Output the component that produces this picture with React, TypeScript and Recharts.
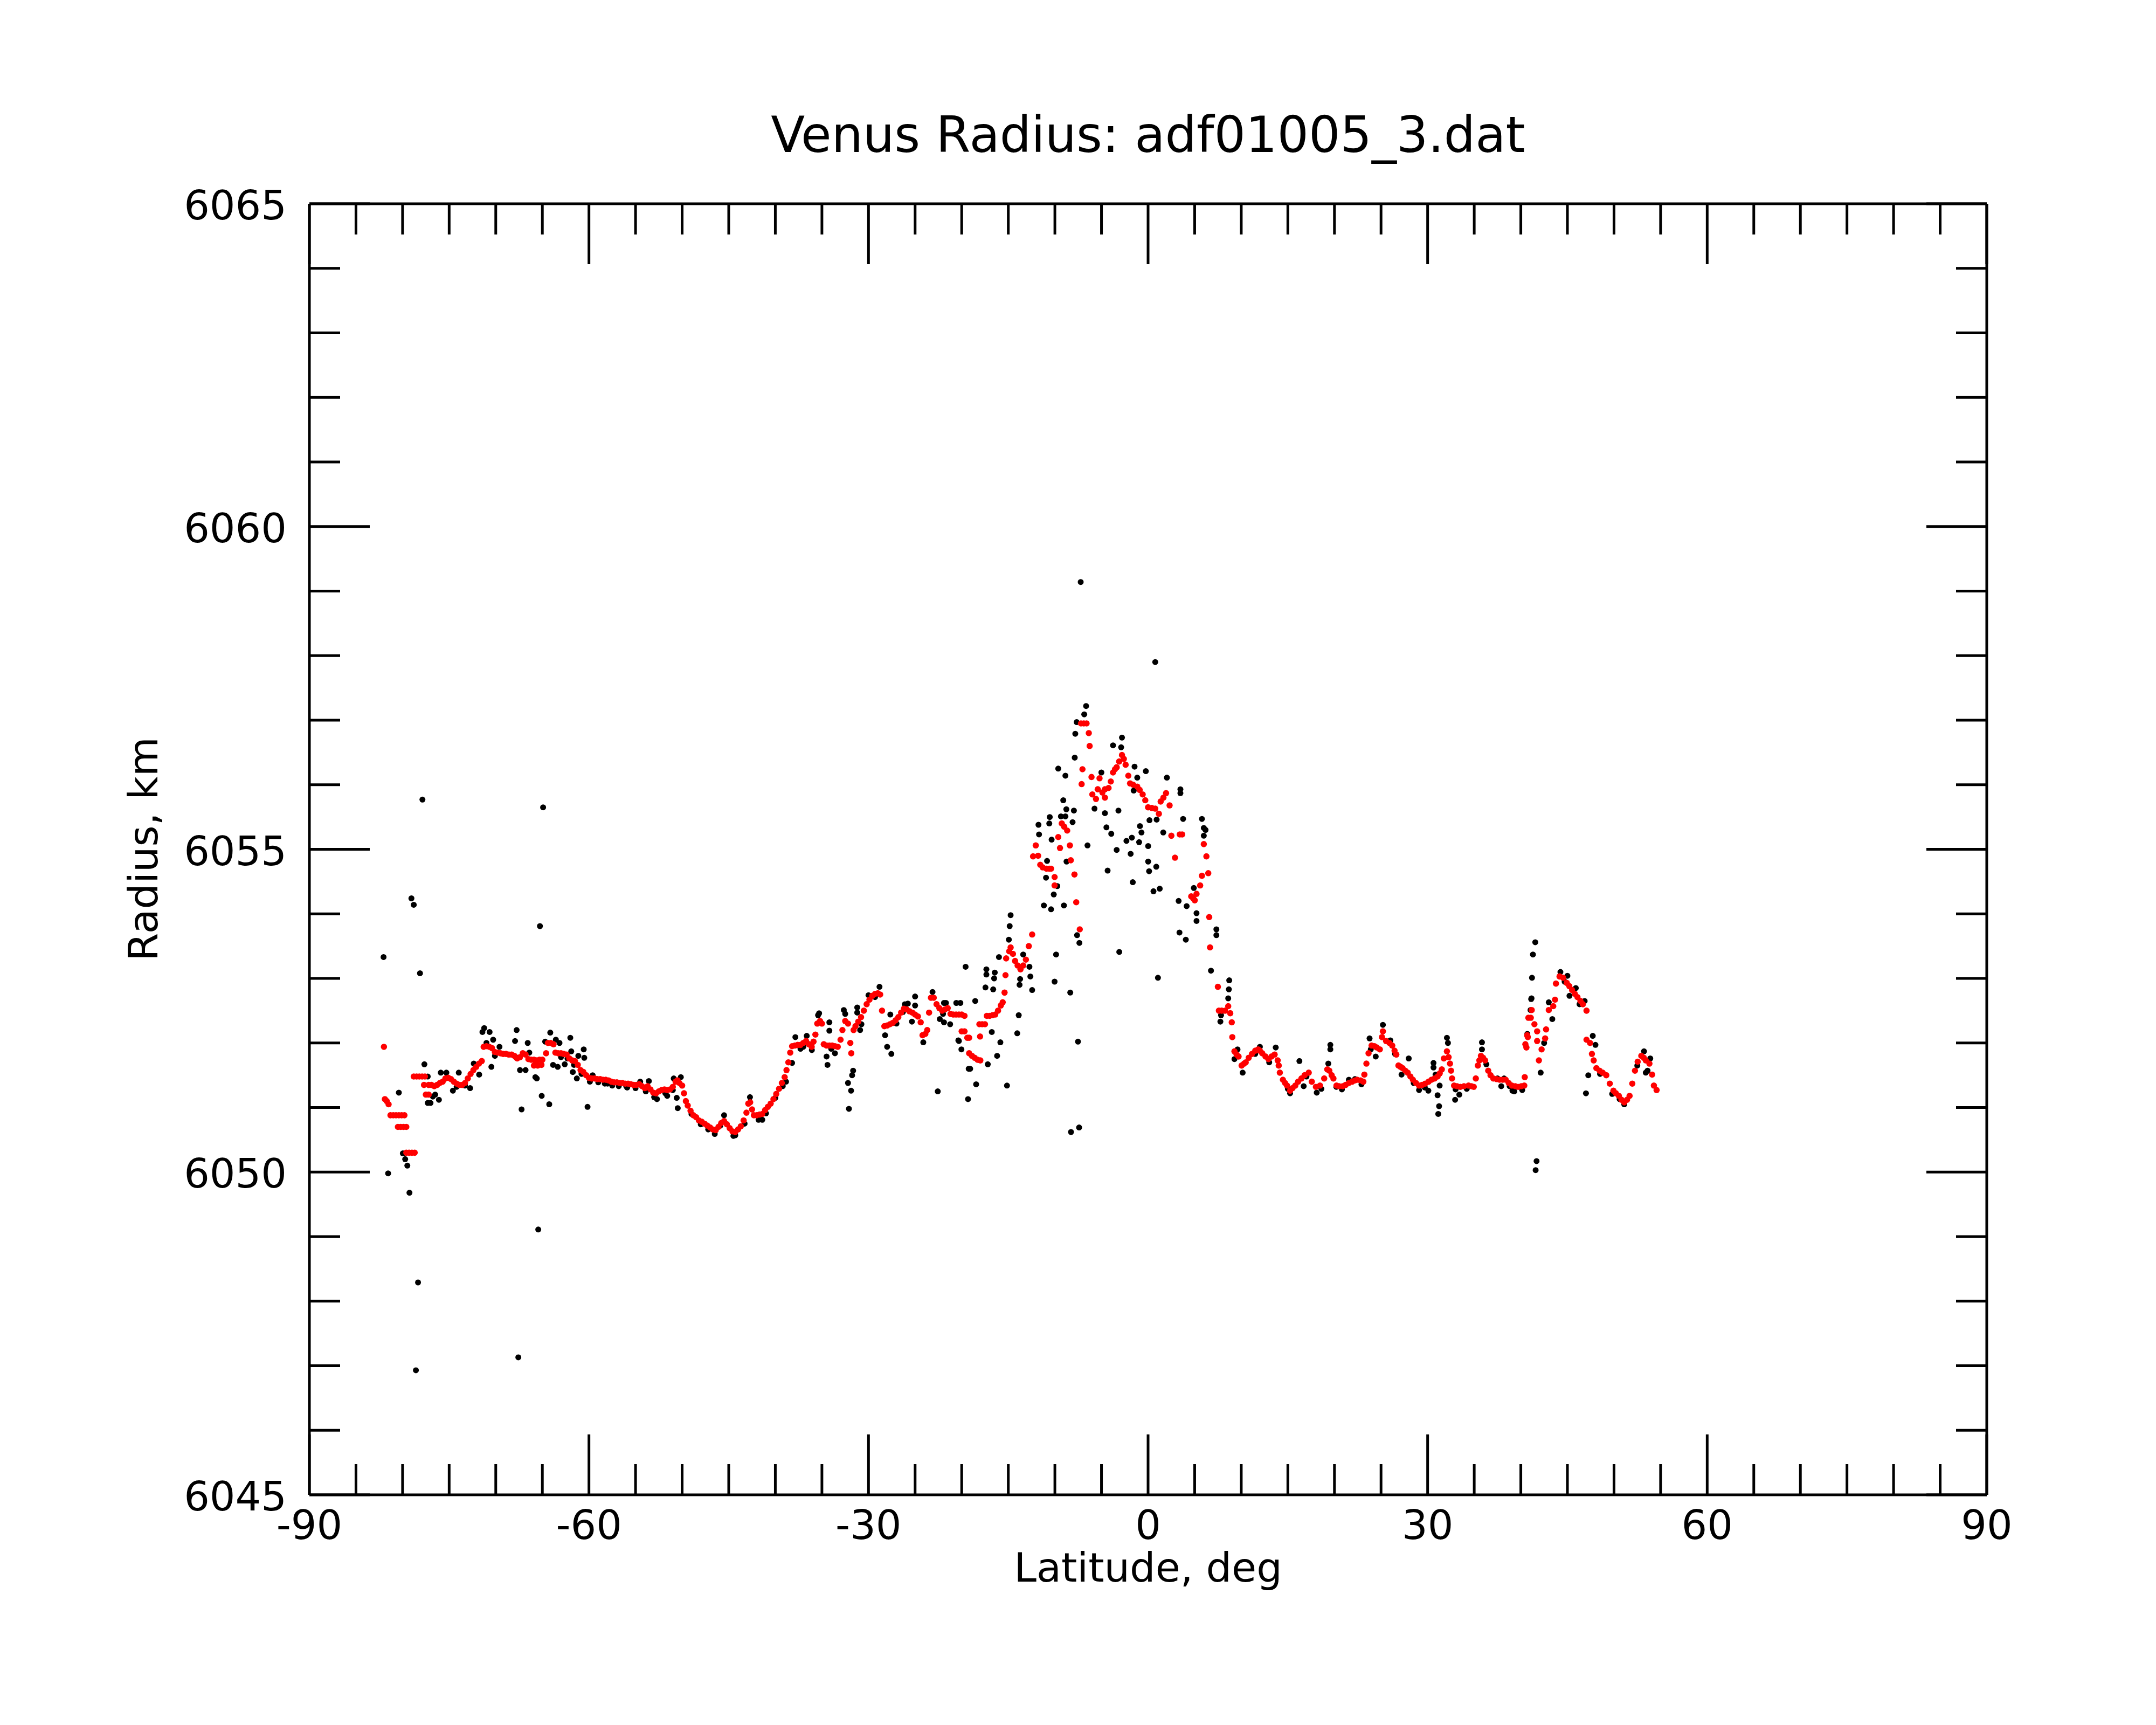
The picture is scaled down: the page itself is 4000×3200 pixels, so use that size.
import React from 'react';
import { ScatterChart, Scatter, XAxis, YAxis } from 'recharts';

// raw radius samples (lat deg, radius km)
const rawPoints: [number, number][] = [
  [-82.04, 6053.33], [-81.55, 6049.98], [-80.4, 6051.23], [-79.97, 6050.29], [-79.72, 6050.2], [-79.49, 6050.1],
  [-79.26, 6049.68], [-79.05, 6054.24], [-78.8, 6054.14], [-78.57, 6046.93], [-78.34, 6048.29], [-78.13, 6053.08],
  [-77.87, 6055.77], [-77.66, 6051.67], [-77.3, 6051.48], [-77.3, 6051.07], [-77.0, 6051.07], [-76.75, 6051.17],
  [-76.5, 6051.2], [-76.1, 6051.12], [-75.9, 6051.54], [-75.3, 6051.54], [-74.6, 6051.26], [-74.2, 6051.32],
  [-73.97, 6051.54], [-73.3, 6051.34], [-72.75, 6051.3], [-72.36, 6051.68], [-71.78, 6051.51], [-71.43, 6052.17],
  [-71.24, 6052.23], [-71.0, 6052.0], [-70.66, 6052.17], [-70.47, 6051.63], [-70.28, 6052.05], [-70.09, 6051.8],
  [-69.6, 6051.94], [-67.93, 6052.03], [-67.85, 6051.78], [-67.76, 6052.2], [-67.58, 6047.13], [-67.4, 6051.58],
  [-67.23, 6050.97], [-66.8, 6051.58], [-66.57, 6052.0], [-66.4, 6051.85], [-65.75, 6051.47], [-65.6, 6051.45],
  [-65.44, 6049.11], [-65.26, 6053.81], [-65.07, 6051.18], [-64.92, 6055.65], [-64.7, 6052.02], [-64.26, 6051.05],
  [-64.15, 6052.16], [-63.85, 6051.66], [-63.55, 6052.05], [-63.35, 6051.63], [-63.16, 6052.0], [-63.0, 6051.78],
  [-62.6, 6051.67], [-62.3, 6051.76], [-62.0, 6052.08], [-61.9, 6051.87], [-61.73, 6051.55], [-61.6, 6051.66],
  [-61.3, 6051.45], [-61.14, 6051.8], [-60.8, 6051.52], [-60.56, 6051.9], [-60.5, 6051.77], [-60.15, 6051.01],
  [-59.9, 6051.4], [-59.6, 6051.5], [-59.0, 6051.39], [-58.3, 6051.37], [-58.0, 6051.37], [-57.5, 6051.34],
  [-56.8, 6051.33], [-56.0, 6051.33], [-55.9, 6051.31], [-55.0, 6051.3], [-54.5, 6051.4], [-53.9, 6051.25],
  [-53.57, 6051.41], [-53.0, 6051.16], [-52.7, 6051.13], [-51.8, 6051.22], [-51.6, 6051.18], [-51.0, 6051.27],
  [-50.9, 6051.45], [-50.58, 6051.15], [-50.47, 6050.99], [-50.14, 6051.47], [-49.0, 6050.9], [-48.0, 6050.74],
  [-47.2, 6050.66], [-46.5, 6050.59], [-45.9, 6050.72], [-45.5, 6050.88], [-44.5, 6050.56], [-44.3, 6050.57],
  [-43.3, 6050.75], [-42.72, 6051.16], [-41.8, 6050.81], [-41.4, 6050.81], [-41.0, 6050.91], [-40.0, 6051.15],
  [-39.2, 6051.33], [-38.85, 6051.4], [-38.2, 6051.69], [-37.85, 6052.09], [-37.3, 6051.91], [-37.0, 6051.94],
  [-36.63, 6052.11], [-36.08, 6051.89], [-35.41, 6052.43], [-35.3, 6052.46], [-34.5, 6051.79], [-34.4, 6051.66],
  [-34.2, 6052.32], [-34.2, 6052.19], [-34.0, 6051.91], [-33.6, 6051.84], [-32.65, 6052.51], [-32.5, 6052.45],
  [-32.2, 6051.38], [-32.1, 6050.98], [-31.87, 6051.26], [-31.76, 6051.5], [-31.65, 6051.57], [-31.21, 6052.55],
  [-31.21, 6052.47], [-30.9, 6052.2], [-30.76, 6052.29], [-30.0, 6052.74], [-29.3, 6052.71], [-28.82, 6052.87],
  [-28.22, 6052.12], [-28.0, 6051.94], [-27.66, 6052.44], [-27.55, 6051.83], [-27.0, 6052.3], [-26.3, 6052.48],
  [-26.1, 6052.6], [-25.78, 6052.61], [-25.34, 6052.33], [-25.0, 6052.72], [-25.0, 6052.58], [-24.12, 6052.01],
  [-23.13, 6052.79], [-22.57, 6051.25], [-22.35, 6052.37], [-22.0, 6052.45], [-21.9, 6052.32], [-21.9, 6052.62],
  [-21.69, 6052.62], [-21.24, 6052.29], [-20.58, 6052.62], [-20.36, 6052.04], [-20.3, 6052.03], [-20.14, 6052.62],
  [-20.03, 6051.9], [-19.58, 6053.18], [-19.32, 6051.13], [-19.25, 6051.6], [-19.09, 6051.6], [-18.55, 6052.65],
  [-18.45, 6051.36], [-17.45, 6052.86], [-17.35, 6053.14], [-17.35, 6053.06], [-17.2, 6051.67], [-16.77, 6052.17],
  [-16.62, 6052.83], [-16.52, 6053.0], [-16.45, 6053.09], [-16.2, 6051.8], [-16.0, 6053.33], [-15.85, 6052.01],
  [-15.14, 6051.34], [-14.94, 6053.6], [-14.85, 6053.81], [-14.75, 6053.98], [-14.04, 6052.15], [-13.88, 6052.43],
  [-13.79, 6052.9], [-13.73, 6052.99], [-13.4, 6053.37], [-12.73, 6053.18], [-12.63, 6053.03], [-12.44, 6052.82],
  [-11.76, 6055.38], [-11.7, 6055.23], [-11.18, 6054.13], [-10.95, 6054.56], [-10.84, 6054.82], [-10.6, 6055.4],
  [-10.55, 6055.5], [-10.41, 6054.07], [-10.35, 6055.15], [-10.12, 6054.3], [-10.03, 6052.95], [-9.87, 6053.37],
  [-9.74, 6054.43], [-9.64, 6056.25], [-9.35, 6055.51], [-9.1, 6055.76], [-9.03, 6054.13], [-8.87, 6055.51],
  [-8.87, 6056.14], [-8.77, 6055.62], [-8.75, 6054.81], [-8.35, 6052.78], [-8.27, 6050.62], [-8.1, 6055.42],
  [-7.96, 6055.6], [-7.87, 6056.42], [-7.81, 6056.79], [-7.66, 6056.97], [-7.62, 6053.67], [-7.52, 6052.02],
  [-7.4, 6050.69], [-7.37, 6053.55], [-7.23, 6059.14], [-6.85, 6057.09], [-6.65, 6057.22], [-6.5, 6055.06],
  [-5.75, 6055.63], [-5.01, 6056.19], [-4.63, 6055.56], [-4.47, 6055.34], [-4.34, 6054.67], [-3.95, 6055.24],
  [-3.76, 6056.61], [-3.37, 6054.99], [-3.18, 6055.6], [-3.09, 6053.41], [-2.89, 6056.58], [-2.8, 6056.73],
  [-2.32, 6055.13], [-1.87, 6054.93], [-1.74, 6055.18], [-1.64, 6054.49], [-1.54, 6055.91], [-1.45, 6056.28],
  [-1.16, 6056.11], [-0.96, 6055.11], [-0.87, 6055.36], [-0.71, 6055.26], [-0.24, 6056.21], [0.01, 6055.05],
  [0.01, 6054.81], [0.11, 6054.66], [0.15, 6055.45], [0.58, 6054.35], [0.77, 6057.9], [0.88, 6054.73],
  [0.92, 6055.46], [1.06, 6053.01], [1.25, 6054.39], [1.63, 6055.26], [2.02, 6056.11], [3.28, 6054.2],
  [3.37, 6053.71], [3.47, 6055.93], [3.47, 6055.87], [3.76, 6055.47], [4.05, 6053.6], [4.14, 6054.12],
  [4.91, 6054.4], [5.2, 6054.01], [5.2, 6053.89], [5.78, 6055.47], [5.98, 6055.33], [5.98, 6055.21],
  [6.17, 6055.3], [6.75, 6053.12], [7.33, 6053.76], [7.33, 6053.67], [7.76, 6052.33], [7.83, 6052.43],
  [8.6, 6052.69], [8.67, 6052.83], [8.71, 6052.97], [9.27, 6051.75], [9.6, 6051.9], [10.15, 6051.54],
  [11.5, 6051.83], [12.0, 6051.94], [13.0, 6051.7], [13.7, 6051.93], [15.0, 6051.29], [15.24, 6051.22],
  [16.24, 6051.72], [16.7, 6051.33], [17.0, 6051.48], [18.1, 6051.23], [18.6, 6051.29], [19.34, 6051.68],
  [19.56, 6051.97], [19.56, 6051.9], [20.2, 6051.32], [20.8, 6051.28], [21.55, 6051.43], [22.2, 6051.44],
  [22.9, 6051.36], [23.77, 6052.07], [23.9, 6051.9], [24.43, 6051.79], [25.2, 6052.28], [26.0, 6052.04],
  [26.5, 6051.83], [27.2, 6051.51], [27.97, 6051.76], [28.5, 6051.38], [29.08, 6051.27], [29.7, 6051.31],
  [30.08, 6051.26], [30.63, 6051.69], [30.63, 6051.62], [30.85, 6051.51], [31.07, 6051.19], [31.14, 6050.9],
  [31.23, 6051.02], [31.29, 6051.34], [32.07, 6052.08], [32.18, 6052.0], [32.95, 6051.12], [33.0, 6051.28],
  [33.4, 6051.2], [34.2, 6051.29], [35.83, 6052.01], [35.83, 6051.9], [36.3, 6051.67], [37.5, 6051.45],
  [37.9, 6051.33], [38.2, 6051.45], [38.8, 6051.33], [39.1, 6051.26], [39.3, 6051.25], [40.15, 6051.27],
  [40.7, 6052.14], [41.04, 6052.51], [41.11, 6052.68], [41.15, 6052.69], [41.2, 6053.01], [41.3, 6053.37],
  [41.55, 6053.56], [41.59, 6050.03], [41.69, 6050.17], [42.13, 6051.54], [42.5, 6052.0], [43.0, 6052.63],
  [43.38, 6052.37], [44.25, 6053.1], [44.7, 6052.95], [45.0, 6053.04], [45.22, 6052.73], [45.9, 6052.85],
  [46.3, 6052.6], [46.85, 6052.65], [46.99, 6051.22], [47.24, 6051.5], [47.72, 6052.11], [48.01, 6051.97],
  [48.5, 6051.52], [49.8, 6051.21], [50.6, 6051.13], [51.1, 6051.05], [52.5, 6051.65], [53.22, 6051.87],
  [53.41, 6051.54], [53.6, 6051.57], [53.89, 6051.76],
];

// smoothed radius (lat deg, radius km)
const smoothPoints: [number, number][] = [
  [-82.0, 6051.94], [-81.9, 6051.13], [-81.7, 6051.1], [-81.5, 6051.05], [-81.3, 6050.88], [-81.0, 6050.88],
  [-80.7, 6050.88], [-80.4, 6050.88], [-80.1, 6050.88], [-79.8, 6050.88], [-80.5, 6050.7], [-80.2, 6050.7],
  [-79.9, 6050.7], [-79.6, 6050.7], [-79.6, 6050.3], [-79.3, 6050.3], [-79.0, 6050.3], [-78.7, 6050.3],
  [-78.8, 6051.48], [-78.5, 6051.48], [-78.2, 6051.48], [-77.9, 6051.48], [-77.6, 6051.48], [-77.7, 6051.35],
  [-77.5, 6051.2], [-77.2, 6051.2], [-77.2, 6051.35], [-76.9, 6051.35], [-76.6, 6051.33], [-76.3, 6051.35],
  [-76.0, 6051.38], [-75.7, 6051.4], [-75.4, 6051.45], [-75.1, 6051.46], [-74.8, 6051.44], [-74.5, 6051.4],
  [-74.2, 6051.37], [-73.9, 6051.35], [-73.6, 6051.35], [-73.3, 6051.38], [-73.0, 6051.45], [-72.7, 6051.52],
  [-72.4, 6051.58], [-72.1, 6051.63], [-71.8, 6051.68], [-71.5, 6051.72], [-71.3, 6051.94], [-71.0, 6051.95],
  [-70.7, 6051.94], [-70.4, 6051.92], [-70.1, 6051.86], [-69.8, 6051.85], [-69.5, 6051.84], [-69.2, 6051.83],
  [-68.9, 6051.83], [-68.6, 6051.82], [-68.3, 6051.82], [-68.0, 6051.8], [-67.7, 6051.76], [-67.4, 6051.78],
  [-67.1, 6051.84], [-66.8, 6051.82], [-66.5, 6051.75], [-66.2, 6051.74], [-65.9, 6051.74], [-65.6, 6051.73],
  [-65.3, 6051.74], [-65.0, 6051.74], [-65.9, 6051.65], [-65.5, 6051.65], [-65.1, 6051.66], [-64.6, 6051.84],
  [-64.4, 6052.0], [-64.1, 6052.0], [-63.8, 6051.98], [-63.6, 6051.85], [-63.3, 6051.84], [-63.0, 6051.84],
  [-62.7, 6051.83], [-62.4, 6051.82], [-62.1, 6051.76], [-61.8, 6051.73], [-61.5, 6051.72], [-61.2, 6051.66],
  [-60.9, 6051.58], [-60.6, 6051.55], [-60.3, 6051.5], [-60.0, 6051.46], [-59.7, 6051.45], [-59.4, 6051.45],
  [-59.1, 6051.44], [-58.8, 6051.44], [-58.5, 6051.43], [-58.2, 6051.43], [-57.9, 6051.42], [-57.6, 6051.4],
  [-57.3, 6051.39], [-57.0, 6051.39], [-56.7, 6051.38], [-56.4, 6051.38], [-56.1, 6051.37], [-55.8, 6051.37],
  [-55.5, 6051.36], [-55.2, 6051.35], [-54.9, 6051.35], [-54.6, 6051.36], [-54.3, 6051.33], [-54.0, 6051.3],
  [-53.7, 6051.33], [-53.4, 6051.28], [-53.1, 6051.23], [-52.8, 6051.22], [-52.5, 6051.25], [-52.2, 6051.27],
  [-51.9, 6051.28], [-51.6, 6051.27], [-51.3, 6051.28], [-51.0, 6051.32], [-50.7, 6051.4], [-50.5, 6051.42],
  [-50.3, 6051.38], [-50.0, 6051.34], [-49.8, 6051.22], [-49.6, 6051.1], [-49.4, 6051.03], [-49.1, 6050.95],
  [-48.8, 6050.88], [-48.5, 6050.85], [-48.2, 6050.8], [-47.9, 6050.78], [-47.6, 6050.75], [-47.3, 6050.72],
  [-47.0, 6050.69], [-46.7, 6050.66], [-46.4, 6050.65], [-46.1, 6050.7], [-45.8, 6050.76], [-45.5, 6050.79],
  [-45.2, 6050.74], [-44.9, 6050.68], [-44.6, 6050.63], [-44.3, 6050.62], [-44.0, 6050.66], [-43.7, 6050.71],
  [-43.4, 6050.8], [-43.1, 6050.92], [-42.9, 6051.06], [-42.7, 6051.08], [-42.5, 6050.97], [-42.3, 6050.88],
  [-42.0, 6050.88], [-41.7, 6050.89], [-41.4, 6050.9], [-41.1, 6050.96], [-40.8, 6051.01], [-40.5, 6051.06],
  [-40.2, 6051.13], [-39.9, 6051.21], [-39.6, 6051.29], [-39.3, 6051.38], [-39.0, 6051.47], [-38.8, 6051.58],
  [-38.6, 6051.7], [-38.4, 6051.85], [-38.2, 6051.95], [-37.9, 6051.96], [-37.6, 6051.97], [-37.3, 6051.97],
  [-37.0, 6052.0], [-36.7, 6052.03], [-36.4, 6051.98], [-36.1, 6051.94], [-35.9, 6052.02], [-35.7, 6052.13],
  [-35.5, 6052.3], [-35.2, 6052.34], [-35.0, 6052.3], [-34.8, 6051.98], [-34.5, 6051.96], [-34.2, 6051.96],
  [-33.9, 6051.96], [-33.6, 6051.95], [-33.3, 6051.94], [-33.0, 6052.05], [-32.8, 6052.2], [-32.5, 6052.34],
  [-32.2, 6052.3], [-31.95, 6052.0], [-31.85, 6051.84], [-31.6, 6052.2], [-31.4, 6052.26], [-31.1, 6052.33],
  [-30.8, 6052.4], [-30.5, 6052.5], [-30.2, 6052.6], [-29.9, 6052.67], [-29.6, 6052.73], [-29.3, 6052.76],
  [-29.0, 6052.77], [-28.75, 6052.75], [-28.55, 6052.5], [-28.3, 6052.26], [-28.0, 6052.27], [-27.7, 6052.29],
  [-27.4, 6052.31], [-27.1, 6052.35], [-26.8, 6052.4], [-26.5, 6052.47], [-26.2, 6052.53], [-25.9, 6052.52],
  [-25.6, 6052.49], [-25.3, 6052.47], [-25.0, 6052.44], [-24.7, 6052.41], [-24.4, 6052.32], [-24.2, 6052.12],
  [-23.9, 6052.14], [-23.7, 6052.2], [-23.5, 6052.47], [-23.3, 6052.7], [-23.0, 6052.7], [-22.7, 6052.6],
  [-22.4, 6052.54], [-22.1, 6052.5], [-21.8, 6052.52], [-21.5, 6052.54], [-21.2, 6052.45], [-20.9, 6052.44],
  [-20.6, 6052.44], [-20.3, 6052.44], [-20.0, 6052.44], [-19.7, 6052.42], [-20.0, 6052.18], [-19.7, 6052.18],
  [-19.4, 6052.08], [-19.2, 6052.08], [-19.2, 6051.84], [-18.9, 6051.8], [-18.6, 6051.77], [-18.3, 6051.74],
  [-18.0, 6051.73], [-18.03, 6052.1], [-18.1, 6052.29], [-17.8, 6052.29], [-17.5, 6052.29], [-17.3, 6052.42],
  [-17.0, 6052.42], [-16.7, 6052.43], [-16.4, 6052.44], [-16.1, 6052.5], [-15.8, 6052.58], [-15.6, 6052.63],
  [-15.4, 6052.78], [-15.3, 6053.05], [-15.23, 6053.31], [-14.9, 6053.42], [-14.75, 6053.48], [-14.5, 6053.38],
  [-14.27, 6053.27], [-14.0, 6053.2], [-13.69, 6053.14], [-13.4, 6053.2], [-13.11, 6053.29], [-12.8, 6053.5],
  [-12.44, 6053.68], [-12.34, 6054.89], [-12.05, 6055.06], [-11.8, 6054.9], [-11.57, 6054.76], [-11.3, 6054.72],
  [-10.9, 6054.7], [-10.6, 6054.7], [-10.41, 6054.7], [-10.03, 6054.57], [-10.03, 6054.44], [-9.64, 6055.19],
  [-9.45, 6055.02], [-9.26, 6055.4], [-9.0, 6055.35], [-8.68, 6055.29], [-8.39, 6055.06], [-8.29, 6054.83],
  [-7.9, 6054.61], [-7.71, 6054.18], [-7.33, 6053.76], [-7.2, 6056.95], [-6.9, 6056.95], [-6.6, 6056.95],
  [-6.36, 6056.8], [-6.27, 6056.6], [-7.04, 6056.24], [-7.13, 6056.01], [-6.07, 6056.12], [-5.98, 6055.85],
  [-5.59, 6055.78], [-5.4, 6055.93], [-5.21, 6056.1], [-4.9, 6055.88], [-4.63, 6055.8], [-4.63, 6055.93],
  [-4.24, 6055.95], [-4.0, 6056.05], [-3.76, 6056.19], [-3.55, 6056.24], [-3.37, 6056.27], [-3.1, 6056.36],
  [-2.8, 6056.46], [-2.6, 6056.4], [-2.41, 6056.31], [-2.12, 6056.14], [-1.93, 6056.02], [-1.6, 6056.0],
  [-1.16, 6055.97], [-0.9, 6055.92], [-0.58, 6055.85], [-0.3, 6055.76], [0.0, 6055.65], [0.4, 6055.64],
  [0.77, 6055.63], [1.16, 6055.55], [1.35, 6055.74], [1.65, 6055.8], [1.93, 6055.87], [2.31, 6055.68],
  [2.5, 6055.21], [2.89, 6054.87], [3.4, 6055.23], [3.66, 6055.23], [4.63, 6054.27], [4.85, 6054.24],
  [5.01, 6054.21], [5.2, 6054.31], [5.59, 6054.44], [5.78, 6054.59], [5.98, 6055.08], [6.26, 6054.89],
  [6.46, 6054.63], [6.56, 6053.95], [6.65, 6053.48], [7.49, 6052.87], [7.6, 6052.5], [7.9, 6052.5],
  [8.27, 6052.5], [8.6, 6052.57], [8.82, 6052.46], [8.98, 6052.32], [9.04, 6052.09], [9.27, 6051.87],
  [9.5, 6051.82], [9.71, 6051.79], [10.04, 6051.65], [10.3, 6051.68], [10.48, 6051.7], [10.8, 6051.77],
  [11.15, 6051.83], [11.5, 6051.88], [11.81, 6051.9], [12.0, 6051.88], [12.25, 6051.84], [12.6, 6051.79],
  [12.92, 6051.75], [13.25, 6051.79], [13.58, 6051.82], [13.91, 6051.73], [14.02, 6051.65], [14.14, 6051.54],
  [14.47, 6051.43], [14.7, 6051.38], [14.91, 6051.34], [15.24, 6051.26], [15.5, 6051.3], [15.8, 6051.34],
  [16.1, 6051.4], [16.46, 6051.45], [16.8, 6051.5], [17.24, 6051.54], [17.57, 6051.4], [18.01, 6051.32],
  [18.45, 6051.34], [18.9, 6051.45], [19.23, 6051.59], [19.45, 6051.57], [19.7, 6051.5], [19.89, 6051.45],
  [20.22, 6051.34], [20.5, 6051.33], [20.89, 6051.33], [21.2, 6051.35], [21.55, 6051.38], [21.9, 6051.4],
  [22.2, 6051.42], [22.44, 6051.43], [22.8, 6051.42], [23.1, 6051.4], [23.21, 6051.51], [23.43, 6051.68],
  [23.66, 6051.84], [23.99, 6051.96], [24.3, 6051.95], [24.54, 6051.93], [24.87, 6051.9], [25.1, 6052.09],
  [25.2, 6052.18], [25.54, 6052.03], [25.9, 6052.0], [26.2, 6051.96], [26.45, 6051.88], [26.64, 6051.82],
  [26.87, 6051.65], [27.1, 6051.63], [27.31, 6051.61], [27.6, 6051.57], [27.86, 6051.54], [28.15, 6051.48],
  [28.42, 6051.43], [28.75, 6051.38], [29.08, 6051.34], [29.4, 6051.35], [29.74, 6051.37], [30.1, 6051.4],
  [30.41, 6051.43], [30.75, 6051.45], [31.07, 6051.48], [31.3, 6051.53], [31.52, 6051.59], [31.74, 6051.76],
  [32.07, 6051.87], [32.25, 6051.78], [32.4, 6051.68], [32.51, 6051.57], [32.62, 6051.45], [32.84, 6051.34],
  [33.15, 6051.33], [33.51, 6051.32], [33.9, 6051.33], [34.39, 6051.34], [34.7, 6051.33], [34.95, 6051.32],
  [35.17, 6051.45], [35.39, 6051.65], [35.55, 6051.73], [35.72, 6051.8], [35.95, 6051.77], [36.17, 6051.73],
  [36.5, 6051.57], [36.75, 6051.5], [37.05, 6051.45], [37.4, 6051.44], [37.72, 6051.43], [38.05, 6051.43],
  [38.38, 6051.43], [38.7, 6051.38], [39.04, 6051.34], [39.4, 6051.33], [39.71, 6051.32], [40.05, 6051.33],
  [40.37, 6051.34], [40.42, 6051.47], [40.49, 6051.98], [40.6, 6051.93], [40.68, 6052.12], [40.75, 6052.09],
  [40.81, 6052.39], [41.07, 6052.39], [41.17, 6052.51], [41.46, 6052.29], [41.75, 6052.18], [41.75, 6052.03],
  [41.94, 6051.73], [42.23, 6051.9], [42.61, 6052.07], [42.71, 6052.21], [43.0, 6052.51], [43.48, 6052.57],
  [43.67, 6052.67], [43.77, 6052.92], [44.16, 6053.03], [44.54, 6053.01], [44.93, 6052.93], [45.2, 6052.88],
  [45.5, 6052.82], [45.8, 6052.76], [46.08, 6052.71], [46.4, 6052.65], [46.66, 6052.6], [47.05, 6052.5],
  [47.05, 6052.05], [47.43, 6052.0], [47.63, 6051.83], [47.82, 6051.73], [48.11, 6051.61], [48.45, 6051.57],
  [48.78, 6051.54], [49.17, 6051.5], [49.55, 6051.37], [49.94, 6051.26], [50.2, 6051.22], [50.52, 6051.18],
  [50.8, 6051.12], [51.1, 6051.08], [51.4, 6051.12], [51.67, 6051.18], [51.96, 6051.37], [52.25, 6051.57],
  [52.54, 6051.71], [52.93, 6051.8], [53.2, 6051.77], [53.41, 6051.73], [53.8, 6051.68], [54.09, 6051.51],
  [54.28, 6051.34], [54.57, 6051.27],
];

const latTicks = [
  -90, -85, -80, -75, -70, -65, -60, -55, -50, -45, -40, -35, -30, -25, -20, -15, -10, -5, 0,
  5, 10, 15, 20, 25, 30, 35, 40, 45, 50, 55, 60, 65, 70, 75, 80, 85, 90,
];
const radiusTicks = [
  6045, 6046, 6047, 6048, 6049, 6050, 6051, 6052, 6053, 6054, 6055,
  6056, 6057, 6058, 6059, 6060, 6061, 6062, 6063, 6064, 6065,
];

const raw = rawPoints.map(([lat, r]) => ({ lat, r }));
const smooth = smoothPoints.map(([lat, r]) => ({ lat, r }));

const FONT = '"DejaVu Sans", sans-serif';
const LINE = 5;
const MAJOR = 112;
const MINOR = 57;

function BottomTick({ x, y, payload }: any) {
  const major = payload.value % 30 === 0;
  return (
    <g>
      <line x1={x} y1={y} x2={x} y2={y - (major ? MAJOR : MINOR)} stroke="#000" strokeWidth={LINE} />
      {major && (
        <text x={x} y={y + 82} textAnchor="middle" fontFamily={FONT} fontSize={75} fill="#000">
          {payload.value}
        </text>
      )}
    </g>
  );
}

function TopTick({ x, y, payload }: any) {
  const major = payload.value % 30 === 0;
  return <line x1={x} y1={y} x2={x} y2={y + (major ? MAJOR : MINOR)} stroke="#000" strokeWidth={LINE} />;
}

function LeftTick({ x, y, payload }: any) {
  const major = payload.value % 5 === 0;
  return (
    <g>
      <line x1={x} y1={y} x2={x + (major ? MAJOR : MINOR)} y2={y} stroke="#000" strokeWidth={LINE} />
      {major && (
        <text x={x - 42} y={y + 29} textAnchor="end" fontFamily={FONT} fontSize={75} fill="#000">
          {payload.value}
        </text>
      )}
    </g>
  );
}

function RightTick({ x, y, payload }: any) {
  const major = payload.value % 5 === 0;
  return <line x1={x} y1={y} x2={x - (major ? MAJOR : MINOR)} y2={y} stroke="#000" strokeWidth={LINE} />;
}

const dot = (fill: string, size: number) => (props: any) =>
  <circle cx={props.cx} cy={props.cy} r={size} fill={fill} />;

export default function App() {
  return (
    <div style={{ position: 'relative', width: 4000, height: 3200, background: '#fff' }}>
      <style>{'body{margin:0}'}</style>
      <ScatterChart width={4000} height={3200} margin={{ top: 368, right: 304, bottom: 227, left: 374 }}>
        <XAxis
          xAxisId="b"
          type="number"
          dataKey="lat"
          domain={[-90, 90]}
          allowDataOverflow
          ticks={latTicks}
          interval={0}
          tickLine={false}
          tickSize={0}
          tickMargin={0}
          tick={(p: any) => <BottomTick {...p} />}
          axisLine={{ stroke: '#000', strokeWidth: LINE }}
          height={200}
        />
        <XAxis
          xAxisId="t"
          orientation="top"
          type="number"
          dataKey="lat"
          domain={[-90, 90]}
          allowDataOverflow
          ticks={latTicks}
          interval={0}
          tickLine={false}
          tickSize={0}
          tickMargin={0}
          tick={(p: any) => <TopTick {...p} />}
          axisLine={{ stroke: '#000', strokeWidth: LINE }}
          height={10}
        />
        <YAxis
          yAxisId="l"
          type="number"
          dataKey="r"
          domain={[6045, 6065]}
          allowDataOverflow
          ticks={radiusTicks}
          interval={0}
          tickLine={false}
          tickSize={0}
          tickMargin={0}
          tick={(p: any) => <LeftTick {...p} />}
          axisLine={{ stroke: '#000', strokeWidth: LINE }}
          width={200}
        />
        <YAxis
          yAxisId="r"
          orientation="right"
          type="number"
          dataKey="r"
          domain={[6045, 6065]}
          allowDataOverflow
          ticks={radiusTicks}
          interval={0}
          tickLine={false}
          tickSize={0}
          tickMargin={0}
          tick={(p: any) => <RightTick {...p} />}
          axisLine={{ stroke: '#000', strokeWidth: LINE }}
          width={10}
        />
        <Scatter xAxisId="b" yAxisId="l" data={raw} shape={dot('#000', 5.5)} isAnimationActive={false} />
        <Scatter xAxisId="b" yAxisId="l" data={smooth} shape={dot('#ff0000', 5.8)} isAnimationActive={false} />
      </ScatterChart>
      <svg width={4000} height={3200} style={{ position: 'absolute', left: 0, top: 0, pointerEvents: 'none' }}>
        <text x={2130} y={282} textAnchor="middle" fontFamily={FONT} fontSize={92} fill="#000">
          Venus Radius: adf01005_3.dat
        </text>
        <text x={2130} y={2934} textAnchor="middle" fontFamily={FONT} fontSize={75} fill="#000">
          Latitude, deg
        </text>
        <text
          x={292}
          y={1575}
          transform="rotate(-90 292 1575)"
          textAnchor="middle"
          fontFamily={FONT}
          fontSize={75}
          fill="#000"
        >
          Radius, km
        </text>
      </svg>
    </div>
  );
}
